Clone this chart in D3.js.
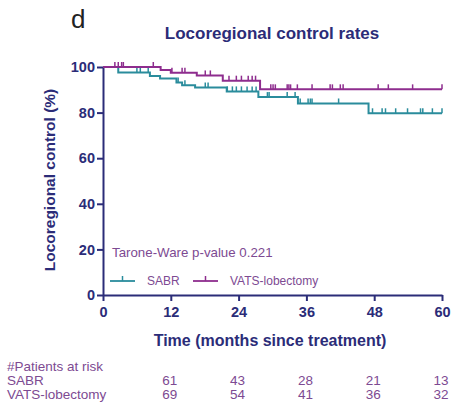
<!DOCTYPE html>
<html>
<head>
<meta charset="utf-8">
<script src="https://cdn.jsdelivr.net/npm/d3@7"></script>
<style>
  body { margin: 0; background: #fff; }
  svg { font-family: "Liberation Sans", Arial, sans-serif; }
</style>
</head>
<body>
<svg width="475" height="414"></svg>
<script>
// Kaplan-Meier steps: [month, percent]
const sabrSteps = [[0,100],[2.7,97.6],[8.3,96.1],[10.1,95.0],[13,93.2],[14,92.0],[16.3,91.0],[21.9,89.3],[27.5,86.8],[34.5,84.0],[47,79.7],[60,79.7]];
const vatsSteps = [[0,100],[10.2,98.7],[12,97.5],[16.6,96.3],[21.2,94.0],[27.8,90.2],[60,90.2]];

// censored times (months)
const sabrCensor = [6.0,6.6,8.0,13.3,14.5,18.1,18.6,22.0,22.9,23.6,24.5,25.5,26.4,27.1,29.1,29.4,32.6,34.0,34.9,36.3,36.7,37.0,41.7,47.7,49.4,50.0,51.8,53.9,56.2,56.6,58.3,60];
const vatsCensor = [2.1,2.7,3.3,3.6,8.9,12.2,14.0,14.5,18.1,19.0,22.3,23.6,24.5,25.7,26.4,27.0,29.7,30.1,30.5,32.6,32.9,33.2,34.4,37.0,40.2,40.6,42.0,42.5,48.7,50.5,54.8,60];

const xTicks = [0,12,24,36,48,60];
const yTicks = [0,20,40,60,80,100];

const riskTimes = [12,24,36,48,60];
const riskGroups = ["SABR","VATS-lobectomy"];
const riskSabr = [61,43,28,21,13];
const riskVats = [69,54,41,36,32];

const navy = "#2b2c78";
const teal = "#2a8c9c";
const purple = "#8e2d8e";
const textPurple = "#7d4a92";

const svg = d3.select("svg");

const x = d3.scaleLinear().domain([0,60]).range([103,442]);
const y = d3.scaleLinear().domain([0,100]).range([295,67]);

// panel letter and title
svg.append("text").attr("x",71).attr("y",28)
  .attr("font-size",26).attr("fill","#222").text("d");

svg.append("text").attr("x",272).attr("y",39)
  .attr("text-anchor","middle").attr("font-size",17).attr("font-weight","bold")
  .attr("fill",navy).text("Locoregional control rates");

// axes
let yAxis = d3.axisLeft(y).tickValues(yTicks).tickSize(6).tickSizeOuter(0).tickPadding(2);
let xAxis = d3.axisBottom(x).tickValues(xTicks).tickSize(6).tickSizeOuter(0).tickPadding(6);

let gy = svg.append("g").attr("transform","translate(" + x(0) + ",0)").call(yAxis);
let gx = svg.append("g").attr("transform","translate(0," + y(0) + ")").call(xAxis);

[gx, gy].forEach(g => {
  g.selectAll("path, line").attr("stroke", navy).attr("stroke-width", 2);
  g.selectAll("text").attr("fill", navy).attr("font-size", 14.5).attr("font-weight","bold")
    .attr("font-family", "'Liberation Sans', Arial, sans-serif");
});

svg.append("text")
  .attr("transform","translate(55,180) rotate(-90)")
  .attr("text-anchor","middle").attr("font-size",15.5).attr("font-weight","bold")
  .attr("fill",navy).text("Locoregional control (%)");

svg.append("text").attr("x",270).attr("y",346)
  .attr("text-anchor","middle").attr("font-size",16).attr("font-weight","bold")
  .attr("fill",navy).text("Time (months since treatment)");

// curves
let line = d3.line().x(d => x(d[0])).y(d => y(d[1])).curve(d3.curveStepAfter);

let valueAt = (steps, t) => {
  let v = steps[0][1];
  steps.forEach(s => { if (s[0] <= t) v = s[1]; });
  return v;
};

let drawCurve = (steps, censor, color) => {
  svg.append("path").datum(steps)
    .attr("d", line).attr("fill","none")
    .attr("stroke", color).attr("stroke-width", 2);
  svg.append("g").selectAll("line")
    .data(censor).enter().append("line")
    .attr("x1", d => x(d)).attr("x2", d => x(d))
    .attr("y1", d => y(valueAt(steps, d)))
    .attr("y2", d => y(valueAt(steps, d)) - 5)
    .attr("stroke", color).attr("stroke-width", 1.5);
};

drawCurve(sabrSteps, sabrCensor, teal);
drawCurve(vatsSteps, vatsCensor, purple);

// legend
svg.append("text").attr("x",112).attr("y",257)
  .attr("font-size",13.3).attr("fill",textPurple).text("Tarone-Ware p-value 0.221");

let legend = [
  {name: "SABR", color: teal, x0: 110},
  {name: "VATS-lobectomy", color: purple, x0: 193}
];
legend.forEach(l => {
  let g = svg.append("g");
  g.append("line").attr("x1",l.x0).attr("x2",l.x0+25).attr("y1",281).attr("y2",281)
    .attr("stroke",l.color).attr("stroke-width",1.8);
  g.append("line").attr("x1",l.x0+12.5).attr("x2",l.x0+12.5).attr("y1",281).attr("y2",276)
    .attr("stroke",l.color).attr("stroke-width",1.5);
  g.append("text").attr("x",l.x0+37).attr("y",285)
    .attr("font-size",12).attr("fill",textPurple).text(l.name);
});

// patients at risk table
svg.append("text").attr("x",7).attr("y",371)
  .attr("font-size",13.5).attr("fill",textPurple).text("#Patients at risk");

[riskSabr, riskVats].forEach((row, i) => {
  let ry = 385 + i*13.5;
  svg.append("text").attr("x",7).attr("y",ry)
    .attr("font-size",13.5).attr("fill",textPurple).text(riskGroups[i]);
  svg.append("g").selectAll("text")
    .data(row).enter().append("text")
    .attr("x", (d,j) => x(riskTimes[j]) - 1)
    .attr("y", ry)
    .attr("text-anchor","middle").attr("font-size",13.5).attr("fill",textPurple)
    .text(d => d);
});
</script>
</body>
</html>
